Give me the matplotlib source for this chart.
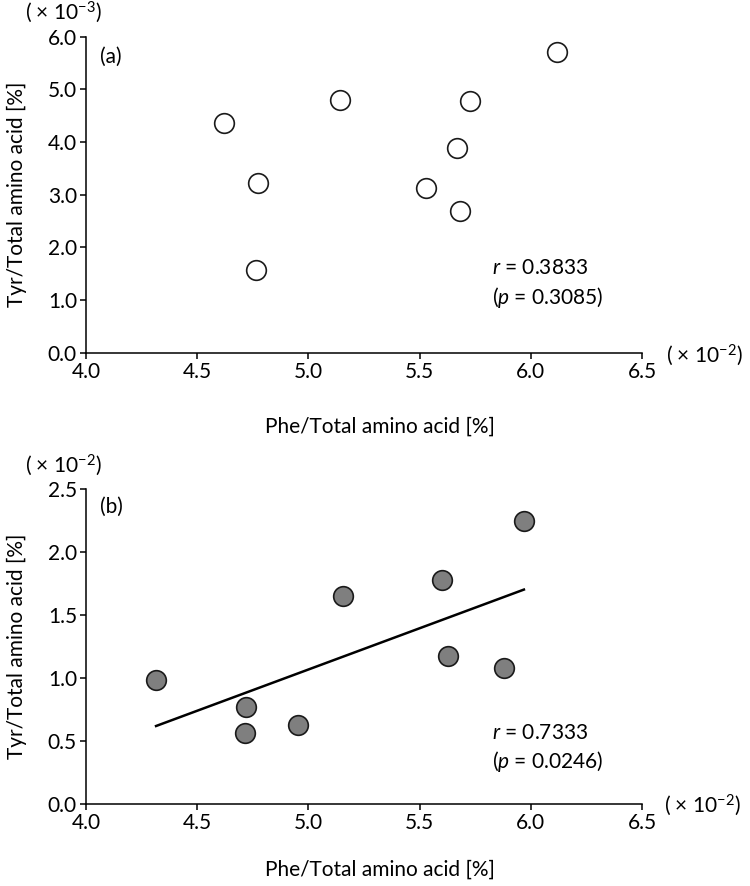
import numpy as np
import matplotlib
matplotlib.use("Agg")
import matplotlib.pyplot as plt

plt.rcParams['font.family'] = ['Lato', 'DejaVu Sans']
plt.rcParams['mathtext.fontset'] = 'custom'
plt.rcParams['mathtext.rm'] = 'Lato'
plt.rcParams['mathtext.it'] = 'Lato:italic'

# (a) open circles, x in 1e-2 %, y in 1e-3 %
phe_a = [4.62, 4.773, 4.764, 5.142, 5.529, 5.668, 5.682, 5.727, 6.118]
tyr_a = [4.37, 3.22, 1.57, 4.80, 3.13, 3.89, 2.69, 4.78, 5.71]
# (b) grey circles, x in 1e-2 %, y in 1e-2 %
phe_b = [4.315, 4.719, 4.715, 4.953, 5.156, 5.60, 5.628, 5.879, 5.969]
tyr_b = [0.986, 0.772, 0.566, 0.63, 1.65, 1.78, 1.18, 1.08, 2.25]

stats_a = ("0.3833", "0.3085")
stats_b = ("0.7333", "0.0246")
xticks = [4.0, 4.5, 5.0, 5.5, 6.0, 6.5]
yticks_a = [0.0, 1.0, 2.0, 3.0, 4.0, 5.0, 6.0]
yticks_b = [0.0, 0.5, 1.0, 1.5, 2.0, 2.5]

W, H = 750, 886
fig = plt.figure(figsize=(W / 100, H / 100), dpi=100)
fs = 15


def px(x, y):
    return x / W, 1 - y / H


def style(ax, yticks):
    ax.spines['top'].set_visible(False)
    ax.spines['right'].set_visible(False)
    for s in ['left', 'bottom']:
        ax.spines[s].set_linewidth(1.1)
    ax.set_xlim(4.0, 6.5)
    ax.set_ylim(yticks[0], yticks[-1])
    ax.set_xticks(xticks)
    ax.set_yticks(yticks)
    ax.set_xticklabels(["%.1f" % v for v in xticks])
    ax.set_yticklabels(["%.1f" % v for v in yticks])
    ax.tick_params(direction='out', length=4.5, width=1.1, labelsize=fs, pad=2)


ax1 = fig.add_axes([86 / W, 1 - 352.7 / H, 556 / W, 316 / H])
ax1.scatter(phe_a, tyr_a, s=200, facecolor='white', edgecolor='#1a1a1a', linewidth=1.2, zorder=3, clip_on=False)
style(ax1, yticks_a)

ax2 = fig.add_axes([86 / W, 1 - 804.3 / H, 556 / W, 315 / H])
coef = np.polyfit(phe_b, tyr_b, 1)
xs = np.array([min(phe_b), max(phe_b)])
ax2.plot(xs, np.polyval(coef, xs), color='black', linewidth=1.8, zorder=2)
ax2.scatter(phe_b, tyr_b, s=200, facecolor='#7f7f7f', edgecolor='#1a1a1a', linewidth=1.2, zorder=3, clip_on=False)
style(ax2, yticks_b)

# panel texts
for (lx, ly), t in [((100, 57), "(a)"), ((100, 507), "(b)")]:
    fig.text(*px(lx, ly), t, fontsize=fs, ha='left', va='center')

for (rx, ry), (r, p) in [((492, 268), stats_a), ((492, 733), stats_b)]:
    fig.text(*px(rx, ry), "$r$ = " + r, fontsize=fs, ha='left', va='center')
    fig.text(*px(rx, ry + 29), "($p$ = " + p + ")", fontsize=fs, ha='left', va='center')

# multipliers
fig.text(*px(102, 12), "( \u00d7 10$^{\\mathrm{-3}}$)", fontsize=fs, ha='right', va='center')
fig.text(*px(102, 465), "( \u00d7 10$^{\\mathrm{-2}}$)", fontsize=fs, ha='right', va='center')
fig.text(*px(666, 355), "( \u00d7 10$^{\\mathrm{-2}}$)", fontsize=fs, ha='left', va='center')
fig.text(*px(664, 805), "( \u00d7 10$^{\\mathrm{-2}}$)", fontsize=fs, ha='left', va='center')

# axis labels
for yc, xl in [(194.7, 427), (646.8, 870)]:
    fig.text(*px(16.5, yc), "Tyr/Total amino acid [%]", fontsize=fs, rotation=90, ha='center', va='center')
    fig.text(*px(380, xl), "Phe/Total amino acid [%]", fontsize=fs, ha='center', va='center')

fig.savefig("out.png", dpi=100)
